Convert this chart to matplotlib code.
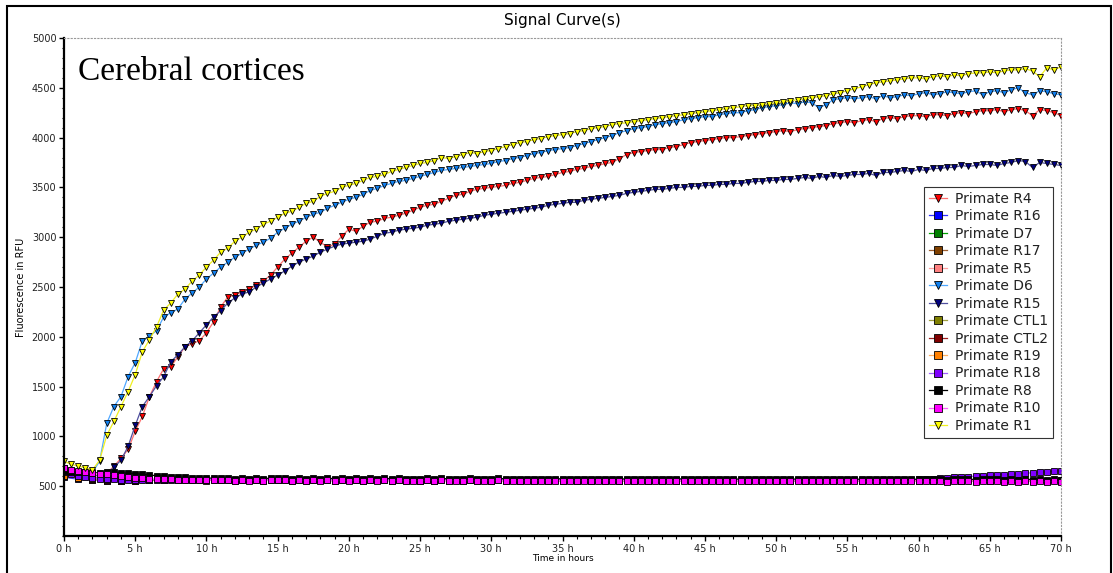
import matplotlib.pyplot as plt
import numpy as np
from matplotlib.patches import Rectangle
from matplotlib.ticker import MultipleLocator, FuncFormatter

# sampling grids (hours)
hours_half = np.arange(0, 70.5, 0.5)
hours_one = np.arange(0, 71, 1)

# rising curves, one value every 0.5 h (0 .. 70 h)
r4 = [680, 660, 640, 625, 615, 610, 630, 700, 780, 870,
      1050, 1200, 1400, 1550, 1680, 1700, 1800, 1900, 1930, 1960,
      2040, 2150, 2300, 2400, 2420, 2450, 2480, 2520, 2560, 2620,
      2700, 2780, 2840, 2900, 2960, 3000, 2950, 2900, 2930, 3010,
      3080, 3060, 3110, 3150, 3160, 3190, 3200, 3220, 3240, 3270,
      3300, 3320, 3330, 3360, 3390, 3420, 3430, 3460, 3480, 3490,
      3500, 3510, 3520, 3540, 3550, 3570, 3590, 3600, 3610, 3630,
      3650, 3660, 3680, 3690, 3710, 3720, 3740, 3750, 3790, 3830,
      3850, 3860, 3870, 3880, 3880, 3900, 3910, 3930, 3950, 3960,
      3970, 3980, 3990, 4000, 4000, 4010, 4020, 4030, 4040, 4050,
      4060, 4070, 4060, 4080, 4090, 4100, 4110, 4120, 4140, 4150,
      4160, 4150, 4170, 4180, 4160, 4190, 4200, 4190, 4210, 4220,
      4220, 4210, 4230, 4230, 4220, 4240, 4250, 4240, 4260, 4270,
      4270, 4280, 4260, 4280, 4290, 4270, 4220, 4280, 4270, 4250,
      4220]

d6 = [680, 650, 630, 620, 640, 750, 1130, 1300, 1400, 1600,
      1740, 1960, 2010, 2060, 2200, 2240, 2280, 2380, 2440, 2500,
      2580, 2640, 2700, 2750, 2800, 2840, 2880, 2920, 2950, 2990,
      3050, 3090, 3130, 3160, 3200, 3230, 3250, 3290, 3320, 3350,
      3380, 3400, 3430, 3470, 3490, 3520, 3540, 3560, 3570, 3590,
      3610, 3630, 3650, 3670, 3680, 3690, 3700, 3710, 3720, 3730,
      3740, 3760, 3770, 3790, 3800, 3820, 3840, 3850, 3870, 3880,
      3890, 3900, 3920, 3940, 3960, 3980, 4000, 4020, 4050, 4070,
      4090, 4100, 4110, 4130, 4140, 4150, 4160, 4180, 4190, 4200,
      4210, 4210, 4230, 4240, 4250, 4250, 4270, 4280, 4300, 4310,
      4320, 4330, 4350, 4340, 4360, 4350, 4300, 4330, 4380, 4390,
      4400, 4390, 4400, 4410, 4390, 4420, 4400, 4410, 4430, 4420,
      4440, 4450, 4430, 4440, 4460, 4450, 4440, 4460, 4470, 4430,
      4460, 4470, 4450, 4480, 4500, 4450, 4430, 4470, 4460, 4440,
      4430]

r15 = [660, 630, 610, 600, 600, 610, 620, 690, 760, 900,
       1110, 1300, 1400, 1510, 1600, 1750, 1820, 1900, 1960, 2040,
       2120, 2200, 2260, 2340, 2390, 2430, 2450, 2500, 2540, 2580,
       2620, 2660, 2710, 2750, 2780, 2810, 2850, 2880, 2910, 2930,
       2940, 2950, 2960, 2980, 3010, 3040, 3050, 3070, 3080, 3090,
       3100, 3120, 3130, 3140, 3160, 3170, 3180, 3190, 3200, 3220,
       3230, 3240, 3250, 3260, 3270, 3280, 3290, 3300, 3320, 3330,
       3340, 3350, 3350, 3370, 3380, 3390, 3400, 3410, 3420, 3440,
       3450, 3460, 3470, 3480, 3480, 3490, 3500, 3500, 3510, 3510,
       3520, 3520, 3530, 3530, 3540, 3540, 3550, 3560, 3560, 3570,
       3570, 3580, 3580, 3590, 3600, 3590, 3610, 3600, 3620, 3610,
       3620, 3630, 3630, 3640, 3620, 3650, 3650, 3660, 3670, 3660,
       3680, 3670, 3690, 3690, 3700, 3700, 3720, 3710, 3720, 3730,
       3730, 3720, 3740, 3750, 3770, 3760, 3700, 3750, 3740, 3730,
       3720]

r1 = [750, 720, 700, 685, 665, 760, 1010, 1150, 1300, 1450,
      1620, 1850, 1970, 2100, 2270, 2340, 2430, 2480, 2560, 2620,
      2700, 2770, 2850, 2890, 2960, 3000, 3050, 3080, 3130, 3160,
      3200, 3240, 3260, 3300, 3340, 3360, 3410, 3440, 3460, 3500,
      3520, 3540, 3570, 3600, 3610, 3630, 3660, 3680, 3700, 3720,
      3740, 3750, 3770, 3800, 3790, 3810, 3830, 3850, 3840, 3860,
      3870, 3890, 3910, 3930, 3950, 3960, 3980, 3990, 4010, 4020,
      4030, 4040, 4060, 4070, 4090, 4100, 4110, 4130, 4140, 4150,
      4160, 4170, 4180, 4190, 4200, 4210, 4220, 4230, 4240, 4250,
      4260, 4270, 4280, 4290, 4300, 4310, 4320, 4320, 4330, 4340,
      4350, 4360, 4370, 4380, 4390, 4400, 4410, 4420, 4440, 4450,
      4470, 4490, 4510, 4530, 4550, 4560, 4570, 4580, 4590, 4600,
      4600, 4590, 4610, 4620, 4610, 4630, 4620, 4640, 4650, 4650,
      4660, 4650, 4670, 4680, 4680, 4690, 4670, 4610, 4700, 4680,
      4710]

# flat curves on the visible top of the band, every 0.5 h
r8 = [650, 645, 640, 640, 635, 635, 640, 640, 635, 630,
      625, 620, 612, 605, 600, 595, 590, 588, 585, 583,
      580, 582, 578, 580, 577, 580, 576, 579, 577, 580,
      578, 581, 577, 580, 576, 579, 577, 580, 576, 578,
      577, 580, 576, 579, 575, 578, 576, 579, 575, 577,
      576, 579, 575, 578, 574, 577, 575, 578, 574, 576,
      575, 578, 574, 577, 573, 576, 574, 577, 573, 575,
      574, 577, 573, 576, 572, 575, 573, 576, 572, 574,
      573, 576, 572, 575, 571, 574, 572, 575, 571, 573,
      572, 575, 571, 574, 570, 573, 571, 574, 570, 572,
      571, 574, 570, 573, 569, 572, 570, 573, 569, 571,
      570, 573, 569, 572, 568, 571, 569, 572, 568, 570,
      569, 572, 568, 571, 567, 570, 568, 571, 567, 569,
      568, 571, 567, 570, 566, 569, 567, 570, 566, 568,
      567]

r10 = [680, 665, 650, 640, 630, 625, 620, 615, 600, 590,
       580, 578, 575, 572, 570, 568, 566, 565, 563, 562,
       560, 562, 558, 560, 557, 560, 556, 559, 557, 560,
       558, 561, 557, 560, 556, 559, 557, 560, 556, 558,
       557, 560, 556, 559, 555, 558, 556, 559, 555, 557,
       556, 559, 555, 558, 554, 557, 555, 558, 554, 556,
       555, 558, 554, 557, 553, 556, 554, 557, 553, 555,
       554, 557, 553, 556, 552, 555, 553, 556, 552, 554,
       553, 556, 552, 555, 551, 554, 552, 555, 551, 553,
       552, 555, 551, 554, 550, 553, 551, 554, 550, 552,
       551, 554, 550, 553, 549, 552, 550, 553, 549, 551,
       550, 553, 549, 552, 548, 551, 549, 552, 548, 550,
       549, 552, 548, 551, 547, 550, 548, 556, 547, 549,
       548, 551, 547, 550, 546, 555, 547, 549, 546, 548,
       547]

r18 = [640, 620, 600, 590, 580, 575, 570, 568, 566, 565,
       565, 565, 564, 566, 565, 563, 565, 566, 564, 565,
       565, 566, 564, 565, 563, 566, 564, 565, 563, 565,
       564, 566, 563, 565, 564, 566, 563, 565, 564, 565,
       563, 565, 564, 566, 563, 565, 564, 565, 563, 566,
       564, 565, 563, 566, 564, 565, 563, 565, 564, 566,
       563, 565, 564, 566, 563, 565, 564, 565, 563, 566,
       564, 565, 563, 566, 564, 565, 563, 565, 564, 566,
       563, 565, 564, 566, 563, 565, 564, 565, 563, 566,
       564, 565, 563, 566, 564, 565, 563, 565, 564, 566,
       563, 565, 564, 566, 563, 565, 564, 565, 563, 566,
       564, 565, 563, 566, 564, 565, 563, 565, 564, 566,
       570, 572, 575, 580, 585, 588, 592, 596, 600, 603,
       608, 612, 616, 620, 625, 630, 635, 640, 645, 650,
       655]

# flat curves hidden under the band, every 1 h
r16 = [590, 570, 560, 555, 555, 560, 560, 562, 560, 561,
       560, 559, 561, 560, 558, 560, 561, 559, 560, 558,
       560, 559, 561, 558, 560, 559, 557, 560, 558, 559,
       557, 559, 558, 556, 558, 557, 559, 556, 558, 557,
       555, 557, 556, 558, 555, 557, 556, 554, 556, 555,
       557, 554, 556, 555, 553, 555, 554, 556, 553, 555,
       554, 552, 554, 553, 555, 552, 554, 553, 551, 553,
       552]
d7 = [600, 590, 580, 575, 570, 570, 565, 566, 564, 565,
      563, 565, 564, 562, 564, 563, 565, 562, 564, 563,
      561, 563, 562, 564, 561, 563, 562, 560, 562, 561,
      563, 560, 562, 561, 559, 561, 560, 562, 559, 561,
      560, 558, 560, 559, 561, 558, 560, 559, 557, 559,
      558, 560, 557, 559, 558, 556, 558, 557, 559, 556,
      558, 557, 555, 557, 556, 558, 555, 557, 556, 554,
      556]
r17 = [620, 600, 585, 575, 570, 568, 566, 565, 564, 566,
       565, 563, 565, 564, 566, 563, 565, 564, 562, 564,
       563, 565, 562, 564, 563, 561, 563, 562, 564, 561,
       563, 562, 560, 562, 561, 563, 560, 562, 561, 559,
       561, 560, 562, 559, 561, 560, 558, 560, 559, 561,
       558, 560, 559, 557, 559, 558, 560, 557, 559, 558,
       556, 558, 557, 559, 556, 558, 557, 555, 557, 556,
       558]
r5 = [600, 580, 565, 555, 550, 555, 560, 558, 560, 559,
      557, 559, 558, 560, 557, 559, 558, 556, 558, 557,
      559, 556, 558, 557, 555, 557, 556, 558, 555, 557,
      556, 554, 556, 555, 557, 554, 556, 555, 553, 555,
      554, 556, 553, 555, 554, 552, 554, 553, 555, 552,
      554, 553, 551, 553, 552, 554, 551, 553, 552, 550,
      552, 551, 553, 550, 552, 551, 549, 551, 550, 552,
      549]
ctl1 = [610, 595, 580, 570, 566, 565, 563, 565, 564, 562,
        564, 563, 565, 562, 564, 563, 561, 563, 562, 564,
        561, 563, 562, 560, 562, 561, 563, 560, 562, 561,
        559, 561, 560, 562, 559, 561, 560, 558, 560, 559,
        561, 558, 560, 559, 557, 559, 558, 560, 557, 559,
        558, 556, 558, 557, 559, 556, 558, 557, 555, 557,
        556, 558, 555, 557, 556, 554, 556, 555, 557, 554,
        556]
ctl2 = [630, 600, 575, 560, 555, 555, 560, 559, 561, 558,
        560, 559, 557, 559, 558, 560, 557, 559, 558, 556,
        558, 557, 559, 556, 558, 557, 555, 557, 556, 558,
        555, 557, 556, 554, 556, 555, 557, 554, 556, 555,
        553, 555, 554, 556, 553, 555, 554, 552, 554, 553,
        555, 552, 554, 553, 551, 553, 552, 554, 551, 553,
        552, 550, 552, 551, 553, 550, 552, 551, 549, 551,
        550]
r19 = [600, 585, 575, 570, 566, 565, 564, 566, 563, 565,
       564, 562, 564, 563, 565, 562, 564, 563, 561, 563,
       562, 564, 561, 563, 562, 560, 562, 561, 563, 560,
       562, 561, 559, 561, 560, 562, 559, 561, 560, 558,
       560, 559, 561, 558, 560, 559, 557, 559, 558, 560,
       557, 559, 558, 556, 558, 557, 559, 556, 558, 557,
       555, 557, 556, 558, 555, 557, 556, 554, 556, 555,
       557]

# legend order: (label, hours, values, marker, marker colour, line colour)
series = [
    ('Primate R4', hours_half, r4, 'v', '#ff0000', '#ff7070'),
    ('Primate R16', hours_one, r16, 's', '#0000ff', '#3030ff'),
    ('Primate D7', hours_one, d7, 's', '#008000', '#00a000'),
    ('Primate R17', hours_one, r17, 's', '#804000', '#a06030'),
    ('Primate R5', hours_one, r5, 's', '#ff8080', '#ffa0a0'),
    ('Primate D6', hours_half, d6, 'v', '#1080f0', '#50a8ff'),
    ('Primate R15', hours_half, r15, 'v', '#000080', '#5050a0'),
    ('Primate CTL1', hours_one, ctl1, 's', '#808000', '#a0a040'),
    ('Primate CTL2', hours_one, ctl2, 's', '#800000', '#a02020'),
    ('Primate R19', hours_one, r19, 's', '#ff8000', '#ffb060'),
    ('Primate R18', hours_half, r18, 's', '#8000ff', '#a060ff'),
    ('Primate R8', hours_half, r8, 's', '#000000', '#000000'),
    ('Primate R10', hours_half, r10, 's', '#ff00ff', '#ff60ff'),
    ('Primate R1', hours_half, r1, 'v', '#ffff00', '#f0f020'),
]

fig = plt.figure(figsize=(11.13, 5.73), dpi=100)
ax = fig.add_axes([64 / 1113, 37 / 573, 997 / 1113, 498 / 573])

for label, t, v, mk, mc, lc in series:
    ms = 5.0 if mk == 'v' else 4.8
    ax.plot(t, v, color=lc, lw=0.9, marker=mk, ms=ms, mfc=mc,
            mec='black', mew=0.6, label=label)

ax.set_xlim(0, 70)
ax.set_ylim(0, 5000)
ax.xaxis.set_major_locator(MultipleLocator(5))
ax.xaxis.set_minor_locator(MultipleLocator(1))
ax.xaxis.set_major_formatter(FuncFormatter(lambda x, p: '%d h' % x))
ax.set_yticks(np.arange(500, 5001, 500))
ax.yaxis.set_minor_locator(MultipleLocator(100))
ax.tick_params(which='major', length=3.5, width=1, labelsize=7,
               labelcolor='#222222', pad=2)
ax.tick_params(which='minor', length=1.8, width=0.8)

for side in ('top', 'right'):
    ax.spines[side].set_linestyle((0, (1, 2)))
    ax.spines[side].set_color('#999999')
    ax.spines[side].set_linewidth(0.8)
for side in ('left', 'bottom'):
    ax.spines[side].set_linewidth(1.6)
    ax.spines[side].set_color('black')

ax.set_xlabel('Time in hours', fontsize=6.5, labelpad=0)
ax.set_ylabel('Fluorescence in RFU', fontsize=7, labelpad=4)
fig.text(0.505, 1 - 20 / 573, 'Signal Curve(s)', ha='center', va='center',
         fontsize=11)

ax.text(0.014, 0.916, 'Cerebral cortices', transform=ax.transAxes,
        family='Liberation Serif', fontsize=24, va='baseline')

leg = ax.legend(loc='upper right', bbox_to_anchor=(0.992, 0.701),
                fontsize=10, frameon=True, fancybox=False, framealpha=1,
                edgecolor='#333333', borderpad=0.35, labelspacing=0.25,
                handlelength=1.3, handletextpad=0.6, markerscale=1.15,
                borderaxespad=0)
leg.get_frame().set_linewidth(0.8)
for txt in leg.get_texts():
    txt.set_color('#222222')

# outer frame of the exported image
fig.patches.append(Rectangle((7 / 1113, -0.02), 1104 / 1113, 1.02 - 6 / 573,
                             transform=fig.transFigure, fill=False,
                             edgecolor='black', lw=1.5))

fig.savefig('out.png', dpi=100)
